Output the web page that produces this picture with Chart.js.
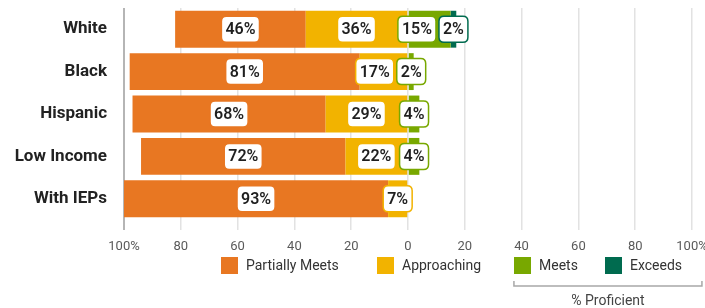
<!DOCTYPE html>
<html>
<head>
<meta charset="utf-8">
<script src="https://cdn.jsdelivr.net/npm/chart.js@4/dist/chart.umd.min.js"></script>
<style>
  html, body { margin: 0; padding: 0; background: #ffffff; }
  #wrap { width: 705px; height: 308px; position: relative; }
</style>
</head>
<body>
<div id="wrap"><canvas id="c" width="705" height="308"></canvas></div>
<script>
// ---- Data ----
const categories = ["White", "Black", "Hispanic", "Low Income", "With IEPs"];
const partiallyMeets = [46, 81, 68, 72, 93];
const approaching = [36, 17, 29, 22, 7];
const meets = [15, 2, 4, 4, 0];
const exceeds = [2, 0, 0, 0, 0];
const xTickValues = [-100, -80, -60, -40, -20, 0, 20, 40, 60, 80, 100];
const legendOrder = ["Partially Meets", "Approaching", "Meets", "Exceeds"];
const bracketLabel = "% Proficient";

const COLORS = {
  "Partially Meets": "#E87722",
  "Approaching": "#F2B300",
  "Meets": "#78A800",
  "Exceeds": "#006B4F"
};

const TICK_FONT = "Roboto";

// Stack order: the segment nearest zero comes first
const datasets = [
  { label: "Approaching", data: approaching.map(v => -v), backgroundColor: COLORS["Approaching"] },
  { label: "Partially Meets", data: partiallyMeets.map(v => -v), backgroundColor: COLORS["Partially Meets"] },
  { label: "Meets", data: meets.slice(), backgroundColor: COLORS["Meets"] },
  { label: "Exceeds", data: exceeds.slice(), backgroundColor: COLORS["Exceeds"] }
];

function roundRect(ctx, x, y, w, h, r) {
  ctx.beginPath();
  ctx.moveTo(x + r, y);
  ctx.lineTo(x + w - r, y);
  ctx.quadraticCurveTo(x + w, y, x + w, y + r);
  ctx.lineTo(x + w, y + h - r);
  ctx.quadraticCurveTo(x + w, y + h, x + w - r, y + h);
  ctx.lineTo(x + r, y + h);
  ctx.quadraticCurveTo(x, y + h, x, y + h - r);
  ctx.lineTo(x, y + r);
  ctx.quadraticCurveTo(x, y, x + r, y);
  ctx.closePath();
}

const labelPlugin = {
  id: "segLabels",
  afterDatasetsDraw(chart) {
    const ctx = chart.ctx;
    ctx.save();
    ctx.font = "600 16px Roboto";
    ctx.textAlign = "center";
    ctx.textBaseline = "middle";
    const nCat = categories.length;
    for (let i = 0; i < nCat; i++) {
      const boxes = [];
      chart.data.datasets.forEach((ds, di) => {
        const v = ds.data[i];
        if (!v) return;
        const el = chart.getDatasetMeta(di).data[i];
        const cx = (el.x + el.base) / 2;
        const txt = Math.abs(v) + "%";
        const w = ctx.measureText(txt).width + 8;
        boxes.push({ cx, y: el.y, txt, w, color: ds.backgroundColor });
      });
      boxes.sort((a, b) => a.cx - b.cx);
      for (let k = boxes.length - 2; k >= 0; k--) {
        const right = boxes[k].cx + boxes[k].w / 2;
        const nextLeft = boxes[k + 1].cx - boxes[k + 1].w / 2;
        if (right > nextLeft - 3) boxes[k].cx -= right - (nextLeft - 3);
      }
      boxes.forEach(b => {
        const h = 26;
        roundRect(ctx, b.cx - b.w / 2, b.y - h / 2, b.w, h, 5);
        ctx.fillStyle = "#ffffff";
        ctx.fill();
        ctx.lineWidth = 1.5;
        ctx.strokeStyle = b.color;
        ctx.stroke();
        ctx.fillStyle = "#1f1f1f";
        ctx.fillText(b.txt, b.cx, b.y + 1);
      });
    }
    ctx.restore();
  }
};

const legendPlugin = {
  id: "customLegend",
  afterDraw(chart, args, opts) {
    const ctx = chart.ctx;
    const xs = chart.scales.x;
    ctx.save();
    ctx.font = "14px " + TICK_FONT;
    ctx.textBaseline = "middle";
    ctx.textAlign = "left";
    legendOrder.forEach((name, i) => {
      const bx = opts.itemX[i];
      ctx.fillStyle = COLORS[name];
      ctx.fillRect(bx, opts.boxY, 17, 17);
      ctx.fillStyle = "#333333";
      ctx.fillText(name, bx + 25, opts.boxY + 9);
    });
    // bracket
    const x1 = xs.getPixelForValue(opts.bracketFrom);
    const x2 = xs.getPixelForValue(opts.bracketTo);
    const y = opts.bracketY;
    ctx.strokeStyle = "#a8a8a8";
    ctx.lineWidth = 1.5;
    ctx.beginPath();
    ctx.moveTo(x1, y - 5);
    ctx.lineTo(x1, y);
    ctx.lineTo(x2, y);
    ctx.lineTo(x2, y - 5);
    ctx.stroke();
    ctx.fillStyle = "#444444";
    ctx.textAlign = "center";
    ctx.font = "14px " + TICK_FONT;
    ctx.fillText(bracketLabel, (x1 + x2) / 2, opts.bracketY + 15);
    ctx.restore();
  }
};

new Chart(document.getElementById("c"), {
  type: "bar",
  data: { labels: categories, datasets },
  options: {
    indexAxis: "y",
    responsive: false,
    animation: false,
    layout: { padding: { top: 8, right: 13, left: 0, bottom: 0 } },
    datasets: { bar: { barPercentage: 0.87, categoryPercentage: 1.0 } },
    plugins: {
      legend: { display: false },
      tooltip: { enabled: false },
      customLegend: { itemX: [221, 377, 514, 605], boxY: 257, bracketFrom: 37.3, bracketTo: 103.5, bracketY: 286 }
    },
    scales: {
      x: {
        stacked: true,
        min: -100, max: 100,
        afterBuildTicks(scale) { scale.ticks = xTickValues.map(v => ({ value: v })); },
        afterFit(scale) { scale.height = 88; scale.paddingLeft = 0; scale.paddingRight = 0; },
        ticks: {
          padding: 9,
          color: "#5a5a5a",
          font: { family: TICK_FONT, size: 13 },
          callback(v) { const a = Math.abs(v); return a === 100 ? a + "%" : String(a); }
        },
        grid: {
          color: c => (c.tick && c.tick.value === -100) ? "#b5b5b5" : "#e2e2e2",
          lineWidth: c => (c.tick && c.tick.value === -100) ? 2 : 1.5,
          tickLength: 10, drawTicks: true
        },
        border: { display: false }
      },
      y: {
        stacked: true,
        afterFit(scale) { scale.width = 124; scale.paddingTop = 0; scale.paddingBottom = 0; },
        ticks: {
          padding: 17,
          color: "#222222",
          font: { family: "Roboto", size: 17, weight: "bold" }
        },
        grid: { display: false, drawTicks: false },
        border: { display: false }
      }
    }
  },
  plugins: [labelPlugin, legendPlugin]
});
</script>
</body>
</html>
